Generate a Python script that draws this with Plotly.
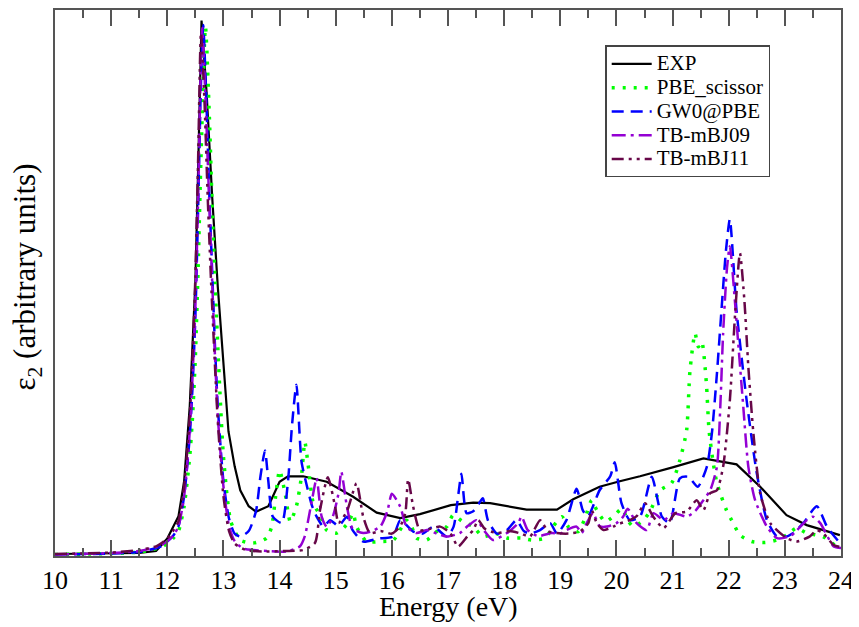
import plotly.graph_objects as go

# ---------------- data ----------------
exp_e = [10.0, 11.0, 11.5, 11.8, 12.0, 12.2, 12.3, 12.4, 12.5, 12.55, 12.61, 12.7, 12.8, 12.9,
         13.0, 13.09, 13.2, 13.3, 13.45, 13.58, 13.8, 14.0, 14.15, 14.42, 14.84, 15.31, 15.73,
         16.15, 16.5, 17.05, 17.45, 17.75, 18.4, 18.94, 19.23, 19.7, 20.06, 20.42, 21.0, 21.55,
         22.14, 22.56, 23.03, 23.39, 23.98]
exp_v = [0.004, 0.005, 0.006, 0.01, 0.035, 0.08, 0.15, 0.30, 0.55, 0.78, 1.075, 0.93, 0.72, 0.54,
         0.39, 0.25, 0.18, 0.132, 0.10, 0.089, 0.10, 0.149, 0.16, 0.16, 0.149, 0.119, 0.087,
         0.076, 0.084, 0.102, 0.107, 0.106, 0.093, 0.093, 0.114, 0.139, 0.15, 0.16, 0.178, 0.196,
         0.184, 0.139, 0.082, 0.062, 0.042]

pbe_e = [10.0, 11.0, 11.5, 11.9, 12.1, 12.2, 12.3, 12.4, 12.45, 12.5, 12.55, 12.6, 12.68, 12.75,
         12.8, 12.85, 12.9, 12.95, 13.0, 13.13, 13.3, 13.53, 13.77, 13.86, 13.93, 14.0, 14.1,
         14.19, 14.3, 14.39, 14.45, 14.51, 14.6, 14.72, 14.84, 15.02, 15.22, 15.31, 15.37, 15.55,
         15.79, 16.03, 16.26, 16.35, 16.44, 16.62, 16.8, 16.98, 17.09, 17.25, 17.45, 17.62, 17.85,
         18.05, 18.3, 18.49, 18.73, 18.87, 19.03, 19.14, 19.32, 19.44, 19.56, 19.65, 19.8, 19.94,
         20.1, 20.2, 20.3, 20.48, 20.6, 20.78, 20.98, 21.13, 21.25, 21.31, 21.4, 21.46, 21.52,
         21.6, 21.65, 21.72, 21.79, 21.87, 21.96, 22.08, 22.2, 22.41, 22.65, 22.85, 23.03, 23.21,
         23.39, 23.68, 23.92, 24.0]
pbe_v = [0.003, 0.005, 0.008, 0.018, 0.035, 0.05, 0.10, 0.20, 0.28, 0.40, 0.58, 0.80, 1.062, 0.88,
         0.70, 0.55, 0.42, 0.30, 0.20, 0.07, 0.032, 0.026, 0.036, 0.059, 0.12, 0.172, 0.125,
         0.069, 0.10, 0.16, 0.229, 0.182, 0.106, 0.082, 0.052, 0.046, 0.066, 0.086, 0.059, 0.029,
         0.029, 0.032, 0.072, 0.059, 0.036, 0.032, 0.049, 0.059, 0.082, 0.07, 0.059, 0.039, 0.045,
         0.036, 0.036, 0.032, 0.036, 0.059, 0.079, 0.059, 0.049, 0.076, 0.112, 0.092, 0.069, 0.079,
         0.095, 0.072, 0.059, 0.072, 0.09, 0.132, 0.146, 0.192, 0.252, 0.372, 0.447, 0.42, 0.43,
         0.35, 0.252, 0.19, 0.146, 0.119, 0.092, 0.066, 0.042, 0.029, 0.027, 0.032, 0.042, 0.056,
         0.046, 0.039, 0.019, 0.015]

gw_e = [10.0, 11.0, 11.5, 11.9, 12.1, 12.2, 12.3, 12.4, 12.45, 12.5, 12.55, 12.6, 12.64, 12.7,
        12.75, 12.8, 12.85, 12.9, 13.0, 13.1, 13.2, 13.3, 13.45, 13.58, 13.66, 13.74, 13.8, 13.88,
        14.04, 14.15, 14.22, 14.3, 14.39, 14.49, 14.58, 14.66, 14.78, 14.9, 15.05, 15.2, 15.3,
        15.49, 15.75, 16.02, 16.15, 16.38, 16.55, 16.74, 16.98, 17.1, 17.18, 17.24, 17.33, 17.45,
        17.55, 17.62, 17.71, 17.87, 18.05, 18.22, 18.35, 18.46, 18.64, 18.82, 18.94, 19.11, 19.29,
        19.4, 19.49, 19.7, 19.89, 19.97, 20.09, 20.24, 20.42, 20.63, 20.81, 20.95, 21.13, 21.28,
        21.45, 21.61, 21.7, 21.79, 21.87, 21.95, 22.02, 22.14, 22.32, 22.5, 22.68, 22.86, 23.0,
        23.15, 23.33, 23.57, 23.75, 23.98]
gw_v = [0.003, 0.005, 0.008, 0.02, 0.04, 0.06, 0.12, 0.24, 0.34, 0.48, 0.70, 0.95, 1.066, 0.90,
        0.72, 0.57, 0.42, 0.30, 0.15, 0.075, 0.045, 0.039, 0.05, 0.09, 0.16, 0.212, 0.15, 0.079,
        0.066, 0.15, 0.26, 0.344, 0.19, 0.139, 0.10, 0.079, 0.059, 0.072, 0.06, 0.079, 0.052,
        0.029, 0.035, 0.039, 0.072, 0.049, 0.045, 0.059, 0.039, 0.059, 0.12, 0.165, 0.086, 0.09,
        0.105, 0.116, 0.072, 0.045, 0.052, 0.072, 0.05, 0.045, 0.052, 0.066, 0.045, 0.072, 0.135,
        0.092, 0.079, 0.132, 0.16, 0.188, 0.106, 0.072, 0.079, 0.159, 0.079, 0.066, 0.156, 0.159,
        0.139, 0.179, 0.246, 0.366, 0.492, 0.612, 0.676, 0.492, 0.312, 0.166, 0.072, 0.039, 0.038,
        0.046, 0.066, 0.10, 0.059, 0.026]

mbj09_e = [10.0, 11.0, 11.5, 11.9, 12.1, 12.2, 12.3, 12.4, 12.45, 12.5, 12.55, 12.62, 12.68,
           12.75, 12.8, 12.85, 12.9, 13.0, 13.1, 13.2, 13.35, 13.53, 13.8, 14.13, 14.36, 14.45,
           14.51, 14.6, 14.66, 14.75, 14.84, 14.95, 15.05, 15.1, 15.2, 15.3, 15.49, 15.65, 15.8,
           15.92, 16.0, 16.15, 16.26, 16.44, 16.62, 16.8, 16.98, 17.21, 17.35, 17.51, 17.65, 17.8,
           18.05, 18.25, 18.31, 18.42, 18.6, 18.85, 19.0, 19.11, 19.29, 19.38, 19.47, 19.58, 19.7,
           19.83, 20.0, 20.12, 20.2, 20.36, 20.54, 20.66, 20.84, 21.02, 21.25, 21.4, 21.55, 21.67,
           21.79, 21.85, 21.9, 21.97, 22.02, 22.11, 22.17, 22.26, 22.35, 22.47, 22.68, 22.86, 23.1,
           23.39, 23.5, 23.63, 23.87, 24.0]
mbj09_v = [0.003, 0.006, 0.01, 0.022, 0.04, 0.06, 0.12, 0.25, 0.36, 0.50, 0.72, 1.06, 0.92,
           0.70, 0.55, 0.40, 0.28, 0.14, 0.06, 0.03, 0.015, 0.012, 0.01, 0.009, 0.019, 0.04,
           0.072, 0.126, 0.156, 0.079, 0.059, 0.08, 0.126, 0.169, 0.099, 0.055, 0.046, 0.05, 0.06,
           0.09, 0.125, 0.099, 0.059, 0.046, 0.052, 0.045, 0.039, 0.046, 0.06, 0.072, 0.05, 0.032,
           0.046, 0.066, 0.079, 0.052, 0.04, 0.046, 0.045, 0.052, 0.059, 0.046, 0.066, 0.086, 0.06,
           0.059, 0.066, 0.079, 0.095, 0.066, 0.052, 0.086, 0.072, 0.086, 0.079, 0.09, 0.112, 0.132,
           0.179, 0.299, 0.446, 0.579, 0.622, 0.512, 0.426, 0.299, 0.179, 0.112, 0.059, 0.036, 0.04,
           0.072, 0.079, 0.066, 0.019, 0.016]

mbj11_e = [10.0, 11.0, 11.5, 11.81, 12.0, 12.1, 12.2, 12.3, 12.4, 12.45, 12.5, 12.55, 12.6, 12.66,
           12.72, 12.78, 12.85, 12.9, 13.0, 13.1, 13.2, 13.4, 13.77, 14.1, 14.42, 14.63, 14.72,
           14.86, 14.99, 15.05, 15.2, 15.37, 15.49, 15.61, 15.8, 16.0, 16.15, 16.24, 16.29, 16.38,
           16.5, 16.7, 16.86, 17.04, 17.18, 17.35, 17.45, 17.54, 17.65, 17.87, 18.1, 18.3, 18.46,
           18.64, 18.78, 18.94, 19.15, 19.35, 19.5, 19.56, 19.65, 19.77, 19.94, 20.06, 20.24, 20.36,
           20.51, 20.65, 20.84, 21.05, 21.25, 21.43, 21.55, 21.67, 21.79, 21.9, 22.02, 22.11, 22.2,
           22.28, 22.35, 22.44, 22.56, 22.74, 23.03, 23.21, 23.44, 23.57, 23.68, 23.87, 24.0]
mbj11_v = [0.004, 0.007, 0.012, 0.02, 0.035, 0.05, 0.07, 0.14, 0.28, 0.40, 0.56, 0.80, 1.05, 0.92,
           0.72, 0.55, 0.38, 0.27, 0.12, 0.05, 0.025, 0.012, 0.009, 0.01, 0.012, 0.026, 0.092,
           0.158, 0.099, 0.066, 0.09, 0.146, 0.079, 0.046, 0.05, 0.045, 0.06, 0.086, 0.154, 0.099,
           0.052, 0.055, 0.059, 0.046, 0.019, 0.04, 0.052, 0.072, 0.055, 0.046, 0.05, 0.045, 0.039,
           0.072, 0.05, 0.046, 0.045, 0.049, 0.066, 0.092, 0.066, 0.052, 0.059, 0.065, 0.072, 0.08,
           0.106, 0.08, 0.056, 0.086, 0.089, 0.112, 0.092, 0.126, 0.132, 0.179, 0.312, 0.479, 0.608,
           0.512, 0.379, 0.246, 0.126, 0.066, 0.036, 0.029, 0.039, 0.052, 0.046, 0.022, 0.018]

series_names = ["EXP", "PBE_scissor", "GW0@PBE", "TB-mBJ09", "TB-mBJ11"]
x_ticks = list(range(10, 25))

# ---------------- figure ----------------
FONT = "Liberation Serif"


def leg(name):
    # legend rows use a compact 16 px row height, the label itself is drawn larger
    return "<span style='font-size:21px'>" + name + "</span>"


fig = go.Figure()

fig.add_trace(go.Scatter(x=exp_e, y=exp_v, name=leg(series_names[0]), mode="lines",
                         line=dict(color="#000000", width=2.2)))
fig.add_trace(go.Scatter(x=pbe_e, y=pbe_v, name=leg(series_names[1]), mode="lines",
                         line=dict(color="#00ff00", width=3.5, dash="3px,8px",
                                   shape="spline", smoothing=0.6)))
fig.add_trace(go.Scatter(x=gw_e, y=gw_v, name=leg(series_names[2]), mode="lines",
                         line=dict(color="#0000ff", width=2.5, dash="12px,7px",
                                   shape="spline", smoothing=0.6)))
fig.add_trace(go.Scatter(x=mbj09_e, y=mbj09_v, name=leg(series_names[3]), mode="lines",
                         line=dict(color="#9400d3", width=2.5, dash="14px,5px,3px,5px",
                                   shape="spline", smoothing=0.6)))
fig.add_trace(go.Scatter(x=mbj11_e, y=mbj11_v, name=leg(series_names[4]), mode="lines",
                         line=dict(color="#670748", width=2.5, dash="12px,5px,3px,5px,3px,5px",
                                   shape="spline", smoothing=0.6)))

# the page body adds an 8 px offset, so the figure is sized/margined to compensate
fig.update_layout(
    width=851, height=619,
    margin=dict(l=47, r=18, t=0, b=71),
    paper_bgcolor="white", plot_bgcolor="white",
    font=dict(family=FONT, color="#000000"),
    showlegend=True,
    legend=dict(x=0.70, y=0.935, xanchor="left", yanchor="top",
                bgcolor="white", bordercolor="#444444", borderwidth=1.5,
                font=dict(family=FONT, size=16, color="#000000"),
                itemwidth=40, tracegroupgap=0),
    xaxis=dict(range=[10, 24], tickmode="array", tickvals=x_ticks,
               ticktext=[str(t) for t in x_ticks],
               ticks="inside", ticklen=16, tickwidth=1.5, tickcolor="#555555",
               minor=dict(dtick=0.5, ticks="inside", ticklen=8, tickwidth=1.5,
                          tickcolor="#555555", showgrid=False),
               showline=True, linecolor="#555555", linewidth=2, mirror="allticks",
               showgrid=False, zeroline=False,
               tickfont=dict(family=FONT, size=26, color="#000000")),
    yaxis=dict(range=[0, 1.096], showticklabels=False, ticks="",
               showline=True, linecolor="#555555", linewidth=2, mirror=True,
               showgrid=False, zeroline=False),
)

fig.add_annotation(text="ε<sub>2</sub> (arbitrary units)", xref="paper", yref="paper",
                   x=0, y=0.51, xshift=-28, xanchor="center", yanchor="middle",
                   textangle=-90, showarrow=False,
                   font=dict(family=FONT, size=31, color="#000000"))
fig.add_annotation(text="Energy (eV)", xref="paper", yref="paper",
                   x=0.5, y=0, yshift=-50, xanchor="center", yanchor="middle",
                   showarrow=False,
                   font=dict(family=FONT, size=28, color="#000000"))

fig.write_html("out.html")
